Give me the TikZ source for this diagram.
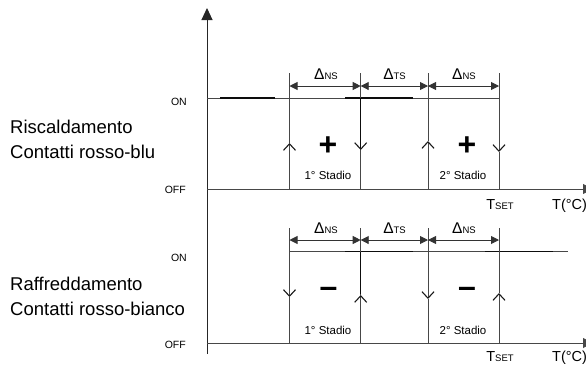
\documentclass[tikz,border=0pt]{standalone}
\usepackage{fontspec}
\setmainfont{Liberation Sans}
\usetikzlibrary{arrows.meta}
\tikzset{
  ln/.style={draw=black!72, line width=0.9pt},
  dk/.style={draw=black!95, line width=1.1pt},
  axisln/.style={draw=black!85, line width=1pt},
  dimarr/.style={draw=black!80, line width=0.9pt, {Triangle[length=8pt,width=8pt]}-{Triangle[length=8pt,width=8pt]}},
  barb/.style={-{Straight Barb[length=6.5pt,width=12pt,line width=1.1pt,color=black!90]}},
  big/.style={font=\fontsize{18.5}{22}\selectfont, anchor=base west, inner sep=0pt},
  onoff/.style={font=\fontsize{10.5}{12}\selectfont, anchor=base east, inner sep=0pt},
  stadio/.style={font=\fontsize{11.5}{13}\selectfont, anchor=base, inner sep=0pt},
  dlab/.style={font=\fontsize{15.5}{17}\selectfont, anchor=base, inner sep=0pt},
  tlab/.style={font=\fontsize{14.5}{16}\selectfont, anchor=base, inner sep=0pt},
  sign/.style={font=\fontsize{32}{32}\selectfont\bfseries, inner sep=0pt},
}
\newcommand{\smalltxt}[1]{{\fontsize{9.5}{10}\selectfont #1}}
\begin{document}
\begin{tikzpicture}[x=1pt,y=-1pt]
\useasboundingbox (0,0) rectangle (586,365);

% named coordinates
\def\xa{289.5} \def\xb{360.7} \def\xc{428} \def\xd{499}
\coordinate (ax0) at (207,354);
\coordinate (ax1) at (207,8);

% vertical axis
\draw[axisln,-{Triangle[length=12pt,width=11pt]}] (ax0) -- (ax1);

% ================= upper graph =================
\coordinate (uoffA) at (207,189); \coordinate (uoffB) at (593,189);
\coordinate (uonA) at (207,98);   \coordinate (uonB) at (\xd,98);
\draw[ln,-{Triangle[length=10pt,width=10pt]}] (uoffA) -- (uoffB);
\draw[ln] (uonA) -- (uonB);
% darker overlapping segments
\draw[dk] (220,98) -- (275,98);
\draw[dk] (345,98) -- (413,98);

% vertical lines upper
\foreach \x/\tip in {\xa/143, \xc/141} {
  \draw[ln,barb] (\x,189) -- (\x,\tip);
  \draw[ln] (\x,\tip) -- (\x,73);
}
\foreach \x/\tip in {\xb/150, \xd/152} {
  \draw[ln] (\x,189) -- (\x,\tip);
  \draw[ln,barb] (\x,73) -- (\x,\tip);
}
\draw[dk] (\xb,98) -- (\xb,148);

% dimension arrows upper
\draw[dimarr] (\xa,86) -- (\xb,86);
\draw[dimarr] (\xb,86) -- (\xc,86);
\draw[dimarr] (\xc,86) -- (\xd,86);
\node[dlab] (u1) at (326,79) {Δ\smalltxt{NS}};
\node[dlab] (u2) at (394.5,79) {Δ\smalltxt{TS}};
\node[dlab] (u3) at (464,79) {Δ\smalltxt{NS}};

\node[sign] (up1) at (328,146) {+};
\node[sign] (up2) at (467,146) {+};
\node[stadio] (us1) at (328,179) {1° Stadio};
\node[stadio] (us2) at (463,179) {2° Stadio};

\node[tlab] (ut) at (500,209) {T\smalltxt{SET}};
\node[tlab, anchor=base west] (uT) at (552,209) {T(°C)};

% ================= lower graph =================
\coordinate (loffA) at (207,343); \coordinate (loffB) at (593,343);
\coordinate (lonA) at (\xa,251.7); \coordinate (lonB) at (568,251.7);
\draw[ln,-{Triangle[length=10pt,width=10pt]}] (loffA) -- (loffB);
\draw[ln] (lonA) -- (lonB);
\draw[dk] (345,251.7) -- (413,251.7);
\draw[dk] (485,251.7) -- (553,251.7);

\foreach \x/\tip in {\xa/297, \xc/299} {
  \draw[ln] (\x,343) -- (\x,\tip);
  \draw[ln,barb] (\x,228) -- (\x,\tip);
}
\foreach \x/\tip in {\xb/295, \xd/293} {
  \draw[ln,barb] (\x,343) -- (\x,\tip);
  \draw[ln] (\x,\tip) -- (\x,228);
}
\draw[dk] (\xb,251.7) -- (\xb,294);

\draw[dimarr] (\xa,240) -- (\xb,240);
\draw[dimarr] (\xb,240) -- (\xc,240);
\draw[dimarr] (\xc,240) -- (\xd,240);
\node[dlab] (l1) at (326,233) {Δ\smalltxt{NS}};
\node[dlab] (l2) at (394.5,233) {Δ\smalltxt{TS}};
\node[dlab] (l3) at (464,233) {Δ\smalltxt{NS}};

\node[sign] (lm1) at (328.5,292.7) {–};
\node[sign] (lm2) at (467,292.7) {–};
\node[stadio] (ls1) at (328,334) {1° Stadio};
\node[stadio] (ls2) at (463,334) {2° Stadio};

\node[tlab] (lt) at (500,361) {T\smalltxt{SET}};
\node[tlab, anchor=base west] (lT) at (552,361) {T(°C)};

% ================= left labels =================
\node[onoff] (uon) at (187,105) {ON};
\node[onoff] (uoff) at (186,193) {OFF};
\node[onoff] (lon) at (187,261) {ON};
\node[onoff] (loff) at (186,348) {OFF};

\node[big] (r1) at (10,133) {Riscaldamento};
\node[big] (r2) at (10,158) {Contatti rosso-blu};
\node[big] (f1) at (10,290) {Raffreddamento};
\node[big] (f2) at (10,315) {Contatti rosso-bianco};
\end{tikzpicture}
\end{document}
